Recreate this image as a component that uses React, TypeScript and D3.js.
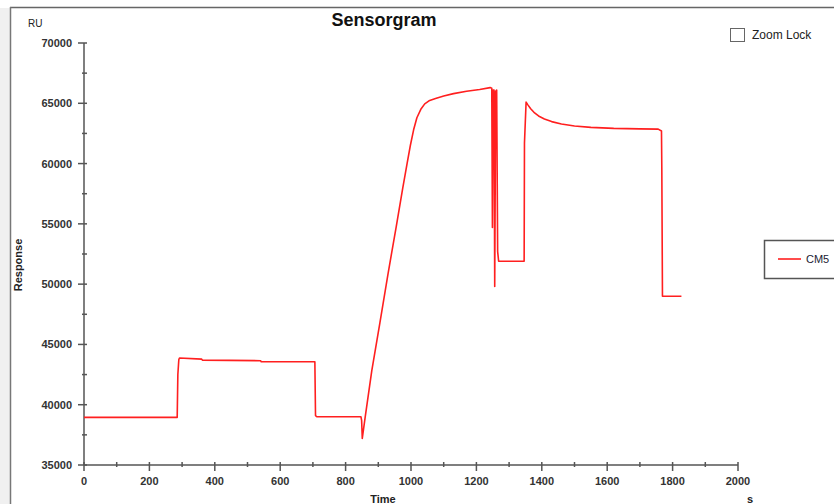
import * as d3 from 'd3'

// sensorgram trace, seconds vs RU
const times = [0, 285, 287, 290, 292, 360, 362, 540, 542, 706, 708, 712, 760, 847, 849, 851, 860, 880, 905, 930, 955, 975, 988, 998, 1008, 1018, 1030, 1042, 1055, 1075, 1100, 1130, 1170, 1210, 1242, 1247, 1249, 1251, 1254, 1256, 1259, 1262, 1265, 1268, 1346, 1347, 1352, 1358, 1366, 1376, 1390, 1408, 1430, 1460, 1500, 1550, 1620, 1700, 1756, 1766, 1767, 1769, 1827]
const response = [38950, 38950, 42500, 43750, 43870, 43780, 43700, 43650, 43560, 43560, 39100, 39000, 39000, 39000, 38700, 37200, 39000, 42800, 46800, 50900, 54800, 58000, 60000, 61500, 62800, 63800, 64500, 64950, 65200, 65400, 65600, 65800, 66000, 66150, 66300, 66250, 54700, 66100, 66100, 49800, 66000, 66100, 52700, 51900, 51900, 61700, 65100, 64850, 64550, 64250, 63950, 63700, 63480, 63280, 63120, 63000, 62920, 62880, 62860, 62700, 59700, 49000, 49000]

const xMajor = [0, 200, 400, 600, 800, 1000, 1200, 1400, 1600, 1800, 2000]
const xMinor = [100, 300, 500, 700, 900, 1100, 1300, 1500, 1700, 1900]
const yMajor = [35000, 40000, 45000, 50000, 55000, 60000, 65000, 70000]
const yMinor = [37500, 42500, 47500, 52500, 57500, 62500, 67500]

const seriesName = 'CM5'

const W = 834
const H = 504
const m = { left: 84, right: 96, top: 43, bottom: 39 }
const font = '"Liberation Sans", Arial, sans-serif'
const axisColor = '#555'
const labelColor = '#333'

export default function App() {
  const x = d3.scaleLinear().domain([0, 2000]).range([m.left, W - m.right])
  const y = d3.scaleLinear().domain([35000, 70000]).range([H - m.bottom, m.top])

  const pts: [number, number][] = times.map((t, i) => [t, response[i]])
  const line = d3.line<[number, number]>().x(d => x(d[0])).y(d => y(d[1]))

  const x0 = x(0), x1 = x(2000), yb = y(35000), yt = y(70000)

  return (
    <svg width={W} height={H} style={{ position: 'fixed', left: 0, top: 0, background: '#fff' }}>
      {/* window frame of the screenshot */}
      <rect x={0} y={0} width={W} height={H} fill="#fff" />
      <rect x={0} y={8} width={10} height={H} fill="#f0f0f0" />
      <line x1={10} x2={W} y1={7.5} y2={7.5} stroke="#666" strokeWidth={1.5} />
      <line x1={10.5} x2={10.5} y1={7} y2={H} stroke="#777" strokeWidth={1.5} />

      <text x={384} y={26} textAnchor="middle" fontFamily={font} fontWeight="bold" fontSize={18} fill="#111">Sensorgram</text>
      <text x={28} y={27} fontFamily={font} fontSize={10} fill="#222">RU</text>

      {/* y axis */}
      <line x1={x0} x2={x0} y1={yt} y2={yb} stroke={axisColor} strokeWidth={1.5} />
      {yMajor.map(v => (
        <g key={v}>
          <line x1={x0 - 6} x2={x0 + 3} y1={y(v)} y2={y(v)} stroke={axisColor} strokeWidth={1.5} />
          <text x={x0 - 12} y={y(v) + 4} textAnchor="end" fontFamily={font} fontWeight="bold" fontSize={11} fill={labelColor}>{v}</text>
        </g>
      ))}
      {yMinor.map(v => (
        <line key={v} x1={x0 - 2} x2={x0 + 3} y1={y(v)} y2={y(v)} stroke={axisColor} strokeWidth={1.5} />
      ))}

      {/* x axis */}
      <line x1={x0} x2={x1} y1={yb} y2={yb} stroke={axisColor} strokeWidth={1.5} />
      {xMajor.map(v => (
        <g key={v}>
          <line x1={x(v)} x2={x(v)} y1={yb - 3} y2={yb + 6} stroke={axisColor} strokeWidth={1.5} />
          <text x={x(v)} y={yb + 20} textAnchor="middle" fontFamily={font} fontWeight="bold" fontSize={11} fill={labelColor}>{v}</text>
        </g>
      ))}
      {xMinor.map(v => (
        <line key={v} x1={x(v)} x2={x(v)} y1={yb - 3} y2={yb + 2} stroke={axisColor} strokeWidth={1.5} />
      ))}

      <text x={383} y={503} textAnchor="middle" fontFamily={font} fontWeight="bold" fontSize={11} fill="#222">Time</text>
      <text x={750} y={503} textAnchor="middle" fontFamily={font} fontWeight="bold" fontSize={11} fill="#222">s</text>
      <text transform={`translate(22,265) rotate(-90)`} textAnchor="middle" fontFamily={font} fontWeight="bold" fontSize={11} fill="#222">Response</text>

      <path d={line(pts) ?? ''} fill="none" stroke="#ff1f1f" strokeWidth={1.6} strokeLinejoin="round" />

      {/* legend */}
      <rect x={764.5} y={240.5} width={80} height={38} fill="#fff" stroke="#555" strokeWidth={1.5} />
      <line x1={778} x2={801} y1={259} y2={259} stroke="#ff1f1f" strokeWidth={1.6} />
      <text x={806} y={263} fontFamily={font} fontSize={11} fill="#223">{seriesName}</text>

      {/* zoom lock checkbox */}
      <rect x={730.5} y={28.5} width={14} height={13} fill="#fff" stroke="#666" strokeWidth={1} />
      <text x={752} y={39} fontFamily={font} fontSize={12} fill="#222">Zoom Lock</text>
    </svg>
  )
}
